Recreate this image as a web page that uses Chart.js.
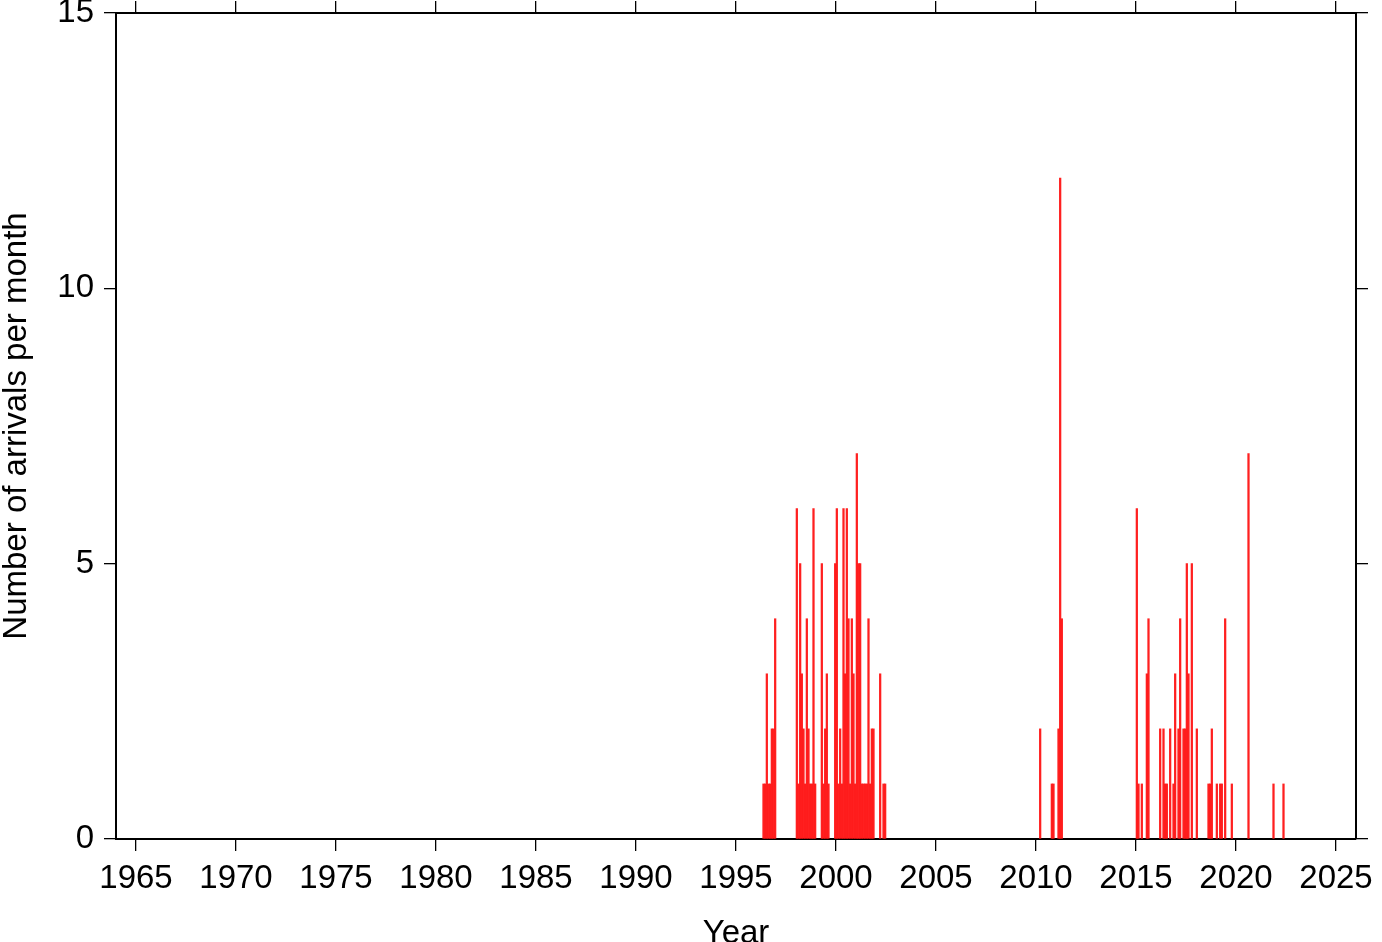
<!DOCTYPE html>
<html>
<head>
<meta charset="utf-8">
<script src="https://cdn.jsdelivr.net/npm/chart.js@4.4.0/dist/chart.umd.min.js"></script>
<style>
  html, body { margin: 0; padding: 0; background: #fff; }
</style>
</head>
<body>
<canvas id="myChart" width="1382" height="942"></canvas>
<script>
// monthly arrival counts (Jan..Dec) for the years that have any arrivals
var years = [1996, 1998, 1999, 2000, 2001, 2002, 2010, 2011, 2015, 2016, 2017, 2018, 2019, 2020, 2021, 2022];
var counts1996 = [0, 0, 0, 0, 1, 1, 3, 1, 1, 2, 2, 4];
var counts1998 = [6, 1, 5, 3, 2, 1, 4, 2, 1, 1, 6, 1];
var counts1999 = [0, 0, 0, 5, 1, 2, 3, 1, 0, 0, 0, 5];
var counts2000 = [6, 1, 2, 1, 6, 3, 6, 4, 1, 4, 3, 1];
var counts2001 = [7, 5, 5, 1, 1, 1, 1, 4, 1, 2, 2, 0];
var counts2002 = [0, 0, 3, 0, 1, 1, 0, 0, 0, 0, 0, 0];
var counts2010 = [0, 0, 2, 0, 0, 0, 0, 0, 0, 1, 1, 0];
var counts2011 = [0, 2, 12, 4, 0, 0, 0, 0, 0, 0, 0, 0];
var counts2015 = [6, 1, 0, 1, 0, 0, 3, 4, 0, 0, 0, 0];
var counts2016 = [0, 0, 2, 0, 2, 1, 1, 0, 2, 0, 1, 3];
var counts2017 = [0, 2, 4, 0, 2, 2, 5, 3, 0, 5, 0, 0];
var counts2018 = [2, 0, 0, 0, 0, 0, 0, 1, 1, 2, 0, 0];
var counts2019 = [1, 0, 1, 1, 0, 4, 0, 0, 0, 1, 0, 0];
var counts2020 = [0, 0, 0, 0, 0, 0, 0, 7, 0, 0, 0, 0];
var counts2021 = [0, 0, 0, 0, 0, 0, 0, 0, 0, 0, 1, 0];
var counts2022 = [0, 0, 0, 0, 1, 0, 0, 0, 0, 0, 0, 0];
var countsByYear = [counts1996, counts1998, counts1999, counts2000, counts2001, counts2002,
    counts2010, counts2011, counts2015, counts2016, counts2017, counts2018,
    counts2019, counts2020, counts2021, counts2022];

// axis ranges and tick labels
var xMin = 1964, xMax = 2026;
var xTicks = [1965, 1970, 1975, 1980, 1985, 1990, 1995, 2000, 2005, 2010, 2015, 2020, 2025];
var yMin = 0, yMax = 15;
var yTicks = [0, 5, 10, 15];

// build bar points at month centres
var points = [];
for (var i = 0; i < years.length; i++) {
    for (var m = 0; m < 12; m++) {
        if (countsByYear[i][m] > 0) {
            points.push({x: years[i] + (m + 0.5) / 12, y: countsByYear[i][m]});
        }
    }
}

var FONT = "'Liberation Sans', Arial, Helvetica, sans-serif";

function frameAxis(pos, size, showLabels) {
    var horiz = (pos === 'top' || pos === 'bottom');
    var tickVals = horiz ? xTicks : yTicks;
    return {
        type: 'linear',
        position: pos,
        min: horiz ? xMin : yMin,
        max: horiz ? xMax : yMax,
        offset: false,
        grid: {
            display: true,
            drawOnChartArea: false,
            drawTicks: true,
            tickLength: 12,
            color: '#000',
            lineWidth: 1.3,
            offset: false
        },
        border: {display: true, color: '#000', width: 2},
        ticks: {
            display: showLabels,
            autoSkip: false,
            maxRotation: 0,
            color: '#000',
            padding: horiz ? 11 : 10,
            font: {family: FONT, size: 33, lineHeight: 1},
            callback: function (v) { return String(v); }
        },
        afterBuildTicks: function (s) {
            s.ticks = tickVals.map(function (v) { return {value: v}; });
        },
        afterFit: function (s) {
            if (horiz) {
                s.height = size;
                s.paddingLeft = 0;
                s.paddingRight = 0;
            } else {
                s.width = size;
                s.paddingTop = 0;
                s.paddingBottom = 0;
            }
        }
    };
}

var xAxis = frameAxis('bottom', 103, true);
xAxis.title = {display: true, text: 'Year', color: '#000', padding: 0,
    font: {family: FONT, size: 33, lineHeight: 0.5}};
var yAxis = frameAxis('left', 116, true);
yAxis.title = {display: true, text: 'Number of arrivals per month', color: '#000', padding: 0,
    font: {family: FONT, size: 33, lineHeight: 1}};

var ctx = document.getElementById('myChart');
var myChart = new Chart(ctx, {
    type: 'bar',
    data: {
        datasets: [{
            data: points,
            backgroundColor: 'rgba(255, 20, 20, 0.95)',
            borderWidth: 0,
            barThickness: 1.6,
            xAxisID: 'x',
            yAxisID: 'y'
        }]
    },
    options: {
        responsive: false,
        animation: false,
        layout: {padding: 0},
        plugins: {legend: {display: false}, tooltip: {enabled: false}},
        scales: {
            x: xAxis,
            y: yAxis,
            x2: frameAxis('top', 13, false),
            y2: frameAxis('right', 26, false)
        }
    }
});
</script>
</body>
</html>
